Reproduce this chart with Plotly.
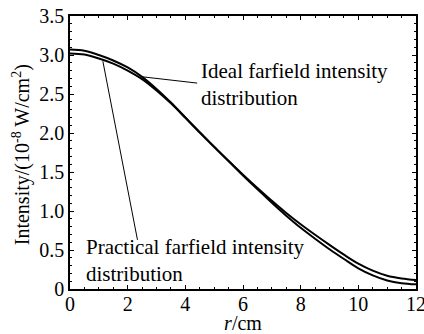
import plotly.graph_objects as go

r_vals = [0, 0.5, 1, 1.5, 2, 2.5, 3, 3.5, 4, 4.5, 5, 5.5, 6, 6.5, 7, 7.5, 8, 8.5, 9, 9.5, 10, 10.5, 11, 11.5, 12]
ideal = [3.07, 3.055, 3.00, 2.93, 2.84, 2.72, 2.565, 2.39, 2.20, 2.01, 1.825, 1.64, 1.455, 1.28, 1.105, 0.94, 0.785, 0.645, 0.51, 0.385, 0.265, 0.175, 0.11, 0.075, 0.06]
practical = [3.02, 3.005, 2.955, 2.89, 2.80, 2.69, 2.545, 2.38, 2.195, 2.005, 1.82, 1.64, 1.465, 1.295, 1.13, 0.975, 0.83, 0.695, 0.565, 0.44, 0.325, 0.235, 0.17, 0.135, 0.115]

x_ticks = [0, 2, 4, 6, 8, 10, 12]
y_ticks = [0, 0.5, 1.0, 1.5, 2.0, 2.5, 3.0, 3.5]
y_tick_text = ["0", "0.5", "1.0", "1.5", "2.0", "2.5", "3.0", "3.5"]

FONT = "Liberation Serif"

fig = go.Figure()
fig.add_trace(go.Scatter(x=r_vals, y=ideal, mode="lines", line=dict(color="black", width=2, shape="spline"), name="Ideal"))
fig.add_trace(go.Scatter(x=r_vals, y=practical, mode="lines", line=dict(color="black", width=2, shape="spline"), name="Practical"))

# pointer lines
fig.add_shape(type="line", x0=2.52, y0=2.72, x1=4.41, y1=2.64, line=dict(color="black", width=1))
fig.add_shape(type="line", x0=1.14, y0=2.92, x1=2.34, y1=0.63, line=dict(color="black", width=1))

fig.add_annotation(x=4.48, y=2.62, text="Ideal farfield intensity<br>distribution", showarrow=False,
                   xanchor="left", yanchor="middle", align="left", font=dict(family=FONT, size=21, color="black"))
fig.add_annotation(x=0.48, y=0.36, text="Practical farfield intensity<br>distribution", showarrow=False,
                   xanchor="left", yanchor="middle", align="left", font=dict(family=FONT, size=21, color="black"))

# y-axis title
fig.add_annotation(xref="paper", yref="paper", x=-0.1416, y=0.49, textangle=-90,
                   text="Intensity/(10<sup>-8</sup> W/cm<sup>2</sup>)", showarrow=False,
                   xanchor="center", yanchor="middle", font=dict(family=FONT, size=20, color="black"))

axis_common = dict(showline=True, linecolor="black", linewidth=1.5, mirror="ticks", ticks="inside",
                   ticklen=4, tickcolor="black", showgrid=False, zeroline=False,
                   tickfont=dict(family=FONT, size=20, color="black"))

fig.update_xaxes(range=[0, 12], tickvals=x_ticks, **axis_common, ticklabeloverflow="allow",
                 ticklabelstandoff=-4,
                 minor=dict(ticks="inside", ticklen=2, dtick=0.5, tickcolor="black"),
                 title=dict(text="<i>r</i>/cm", font=dict(family=FONT, size=20, color="black"), standoff=1))
fig.update_yaxes(range=[0, 3.5], tickvals=y_ticks, ticktext=y_tick_text, **axis_common,
                 minor=dict(ticks="inside", ticklen=2, dtick=0.1, tickcolor="black"))

fig.update_layout(width=424, height=334, margin=dict(l=70, r=8, t=16, b=45, autoexpand=False),
                  plot_bgcolor="white", paper_bgcolor="white", showlegend=False)

fig.write_html("out.html", config={"displayModeBar": False},
               post_script="document.body.style.margin='0px';")
